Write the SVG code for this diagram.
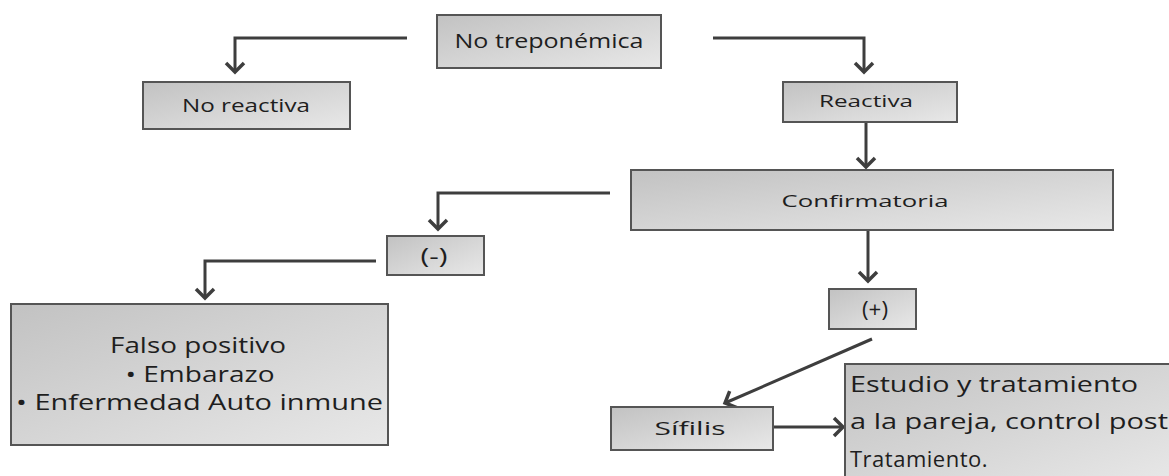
<svg xmlns="http://www.w3.org/2000/svg" width="1169" height="476" viewBox="0 0 1169 476">
<style>
.box{fill:url(#g);stroke:#555;stroke-width:2}
.t{font-family:"Open Sans","Liberation Sans",sans-serif;fill:#1e1e1e;text-anchor:middle}
.tl{font-family:"Open Sans","Liberation Sans",sans-serif;fill:#1e1e1e}
.c{fill:none;stroke:#3e3e3e;stroke-width:3;marker-end:url(#a)}
</style>
<defs>
<linearGradient id="g" x1="0" y1="0" x2="1" y2="1">
<stop offset="0" stop-color="#c2c2c2"/>
<stop offset="1" stop-color="#e8e8e8"/>
</linearGradient>
<marker id="a" markerUnits="userSpaceOnUse" markerWidth="24" markerHeight="24" refX="12" refY="12" orient="auto" viewBox="0 0 24 24">
<path d="M3,3 L12,12 L3,21" fill="none" stroke="#3e3e3e" stroke-width="3.5"/>
</marker>
</defs>
<rect width="1169" height="476" fill="#fff"/>
<g id="connectors">
<path class="c" d="M407,38 H235 V72"/>
<path class="c" d="M713,38 H864 V72"/>
<path class="c" d="M866,122 V167"/>
<path class="c" d="M610,193 H438 V229"/>
<path class="c" d="M376,261 H205 V298"/>
<path class="c" d="M868,230 V281"/>
<path class="c" d="M872,339 L725,403"/>
<path class="c" d="M774,427 H843"/>
</g>
<g id="n-notrep"><rect class="box" x="437" y="15" width="224" height="53"/><text class="t" x="549" y="48" font-size="20" textLength="189" lengthAdjust="spacingAndGlyphs">No  treponémica</text></g>
<g id="n-noreact"><rect class="box" x="143" y="82" width="207" height="47"/><text class="t" x="246" y="112" font-size="18" textLength="128" lengthAdjust="spacingAndGlyphs">No reactiva</text></g>
<g id="n-react"><rect class="box" x="783" y="82" width="174" height="40"/><text class="t" x="866" y="107" font-size="17" textLength="94" lengthAdjust="spacingAndGlyphs">Reactiva</text></g>
<g id="n-confirm"><rect class="box" x="631" y="170" width="482" height="60"/><text class="t" x="865" y="207" font-size="17" textLength="167" lengthAdjust="spacingAndGlyphs">Confirmatoria</text></g>
<g id="n-neg"><rect class="box" x="387" y="236" width="97" height="39"/><text class="t" x="434" y="264" font-size="21" textLength="27" lengthAdjust="spacingAndGlyphs">(-)</text></g>
<g id="n-pos"><rect class="box" x="829" y="289" width="87" height="40"/><text class="t" x="875" y="317" font-size="21" textLength="26" lengthAdjust="spacingAndGlyphs">(+)</text></g>
<g id="n-falso"><rect class="box" x="11" y="304" width="377" height="141"/>
<text class="t" x="198" y="353" font-size="21" textLength="176" lengthAdjust="spacingAndGlyphs">Falso positivo</text>
<text class="t" x="200" y="382" font-size="21" textLength="149" lengthAdjust="spacingAndGlyphs">• Embarazo</text>
<text class="t" x="199.5" y="410" font-size="21" textLength="367" lengthAdjust="spacingAndGlyphs">• Enfermedad  Auto inmune</text></g>
<g id="n-sifilis"><rect class="box" x="611" y="407" width="162" height="43"/><text class="t" x="690" y="435" font-size="19" textLength="71" lengthAdjust="spacingAndGlyphs">Sífilis</text></g>
<g id="n-estudio"><rect class="box" x="845" y="364" width="330" height="120"/>
<text class="tl" x="850" y="392" font-size="21" textLength="288" lengthAdjust="spacingAndGlyphs">Estudio y tratamiento</text>
<text class="tl" x="850" y="429" font-size="21" textLength="318" lengthAdjust="spacingAndGlyphs">a la pareja, control post</text>
<text class="tl" x="850" y="467" font-size="22" letter-spacing="0.5">Tratamiento.</text></g>
</svg>
